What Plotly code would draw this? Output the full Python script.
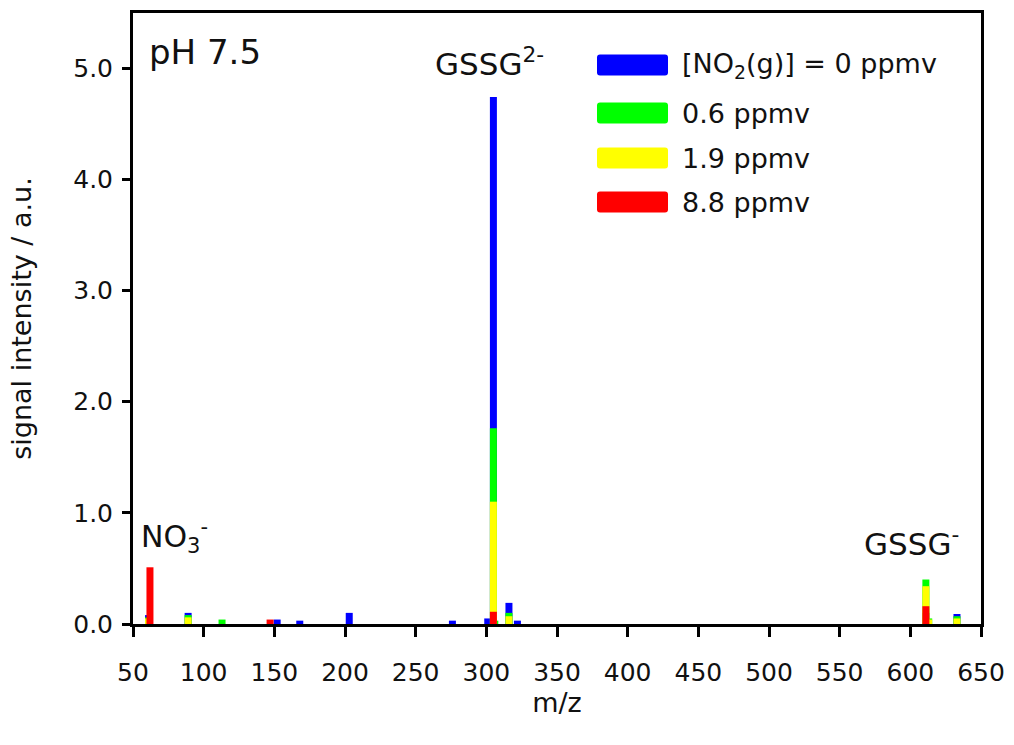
import plotly.graph_objects as go

# ---- data (m/z, signal intensity / a.u.) ----
blue_mz = [61, 89, 152, 168, 203, 276, 301, 305, 316, 322, 611, 633]
blue_int = [0.08, 0.10, 0.04, 0.03, 0.10, 0.03, 0.05, 4.74, 0.19, 0.03, 0.10, 0.09]

green_mz = [61, 89, 113, 305, 306, 316, 611, 613, 633]
green_int = [0.06, 0.08, 0.04, 1.76, 0.03, 0.10, 0.40, 0.05, 0.07]

yellow_mz = [61, 89, 305, 316, 611, 613, 633]
yellow_int = [0.05, 0.06, 1.10, 0.07, 0.34, 0.04, 0.05]

red_mz = [62, 147, 305, 611]
red_int = [0.51, 0.04, 0.11, 0.16]

series_names = ["[NO<sub>2</sub>(g)] = 0 ppmv", "0.6 ppmv", "1.9 ppmv", "8.8 ppmv"]
series_colors = ["#0000FF", "#00FF00", "#FFFF00", "#FF0000"]
series_data = [(blue_mz, blue_int), (green_mz, green_int),
               (yellow_mz, yellow_int), (red_mz, red_int)]

x_ticks = list(range(50, 651, 50))
y_ticks = [0, 1, 2, 3, 4, 5]
y_ticklabels = ["0.0", "1.0", "2.0", "3.0", "4.0", "5.0"]

FONT = "DejaVu Sans"
TXT = "#111111"

fig = go.Figure()


def sticks(mz, inten):
    xs, ys = [], []
    for m, v in zip(mz, inten):
        xs += [m, m, None]
        ys += [0, v, None]
    return xs, ys


for name, color, (mz, inten) in zip(series_names, series_colors, series_data):
    xs, ys = sticks(mz, inten)
    fig.add_trace(go.Scatter(x=xs, y=ys, mode="lines", name=name,
                             line=dict(color=color, width=7),
                             showlegend=False, hoverinfo="skip"))

# plot area in pixels: left 133, right 981, top 13, bottom 624
W, H = 1014, 745
L, R, T, B = 133, 981, 13, 624


def px(xp):
    return (xp - L) / (R - L)


def py(yp):
    return (B - yp) / (B - T)


# custom legend (rounded swatches)
legend_rows = [65, 113, 158, 202]
shapes = []
annotations = []
for name, color, yc in zip(series_names, series_colors, legend_rows):
    x0, x1 = px(597), px(668)
    y0, y1 = py(yc + 10.5), py(yc - 10.5)
    r = 3
    rx, ry = r / (R - L), r / (B - T)
    path = (f"M {x0+rx},{y0} L {x1-rx},{y0} Q {x1},{y0} {x1},{y0+ry} "
            f"L {x1},{y1-ry} Q {x1},{y1} {x1-rx},{y1} L {x0+rx},{y1} "
            f"Q {x0},{y1} {x0},{y1-ry} L {x0},{y0+ry} Q {x0},{y0} {x0+rx},{y0} Z")
    shapes.append(dict(type="path", path=path, xref="paper", yref="paper",
                       fillcolor=color, line=dict(width=0)))
    annotations.append(dict(x=px(680), y=py(yc), xref="paper", yref="paper",
                            text=name, showarrow=False, xanchor="left",
                            yanchor="middle",
                            font=dict(family=FONT, size=27, color=TXT)))

# peak labels
annotations += [
    dict(x=px(147), y=py(52), xref="paper", yref="paper", text="pH 7.5",
         showarrow=False, xanchor="left", yanchor="middle",
         font=dict(family=FONT, size=34, color=TXT)),
    dict(x=px(489), y=py(62), xref="paper", yref="paper",
         text="GSSG<sup>2-</sup>", showarrow=False, xanchor="center",
         yanchor="middle", font=dict(family=FONT, size=31, color=TXT)),
    dict(x=px(139), y=py(536), xref="paper", yref="paper",
         text="NO<sub>3</sub><sup>-</sup>", showarrow=False, xanchor="left",
         yanchor="middle", font=dict(family=FONT, size=30, color=TXT)),
    dict(x=px(911), y=py(542), xref="paper", yref="paper",
         text="GSSG<sup>-</sup>", showarrow=False, xanchor="center",
         yanchor="middle", font=dict(family=FONT, size=31, color=TXT)),
]

fig.update_layout(
    width=W, height=H,
    margin=dict(l=L, r=W - R, t=T, b=H - B, pad=0, autoexpand=False),
    plot_bgcolor="white", paper_bgcolor="white",
    showlegend=False,
    shapes=shapes,
    annotations=annotations,
    font=dict(family=FONT, size=24, color=TXT),
)

fig.update_xaxes(
    range=[50, 650], tickvals=x_ticks, ticktext=[str(v) for v in x_ticks],
    showgrid=False, zeroline=False, automargin=False,
    showline=True, linecolor="black", linewidth=3, mirror=True,
    ticks="outside", ticklen=10, tickwidth=3, tickcolor="black",
    ticklabelstandoff=14,
    tickfont=dict(family=FONT, size=25, color=TXT),
    title=dict(text="m/z", font=dict(family=FONT, size=27, color=TXT),
               standoff=6),
)
fig.update_yaxes(
    range=[0, 5.495], tickvals=y_ticks, ticktext=y_ticklabels,
    showgrid=False, zeroline=False, automargin=False,
    showline=True, linecolor="black", linewidth=3, mirror=True,
    ticks="outside", ticklen=8, tickwidth=3, tickcolor="black",
    ticklabelstandoff=4,
    tickfont=dict(family=FONT, size=25, color=TXT),
    title=dict(text="signal intensity / a.u.",
               font=dict(family=FONT, size=27, color=TXT), standoff=34),
)

fig.write_html("out.html")
